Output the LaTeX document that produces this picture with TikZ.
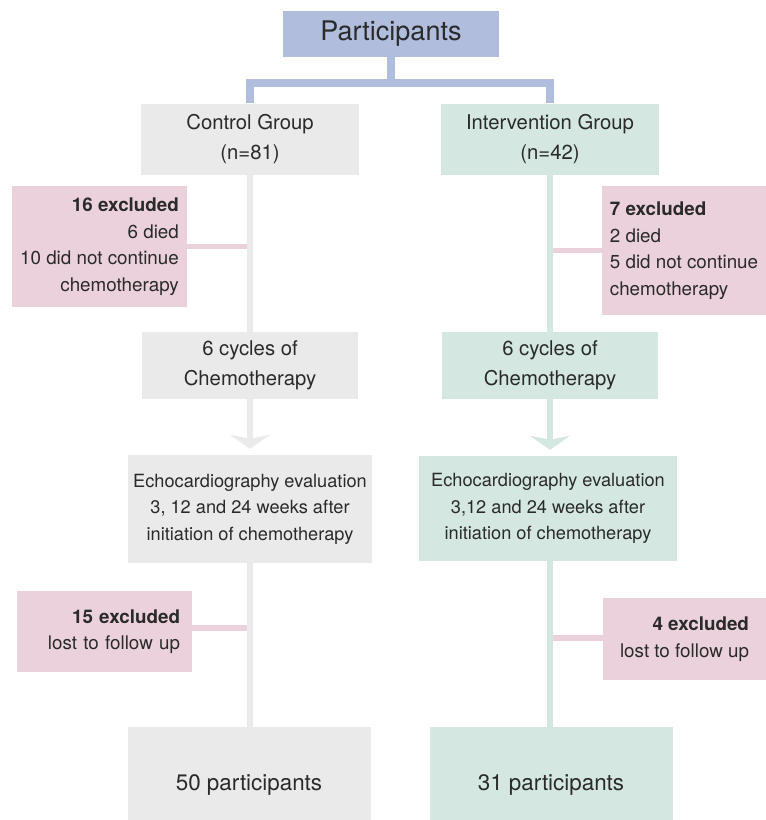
\documentclass[tikz,border=0pt]{standalone}
\usepackage{fontspec}
\setmainfont{TeX Gyre Heros}
\usetikzlibrary{arrows.meta}
\definecolor{partblue}{HTML}{B0BDDD}
\definecolor{ctrlgray}{HTML}{EAEAEA}
\definecolor{intvgreen}{HTML}{D4E8E1}
\definecolor{exclpink}{HTML}{EBD1DB}
\definecolor{inktext}{HTML}{2A2A2A}
\newcommand{\fsz}[2]{\fontsize{#1}{#2}\selectfont}
\tikzset{
  flowbox/.style  = {inner sep=0pt,align=center,text=inktext,font=\fsz{20.3}{30}},
  ctrlbox/.style  = {flowbox,fill=ctrlgray},
  intvbox/.style  = {flowbox,fill=intvgreen},
  exclbox/.style  = {flowbox,fill=exclpink,font=\fsz{18.8}{26.5}},
  evalbox/.style  = {font=\fsz{18.2}{26.5}},
  finbox/.style   = {font=\fsz{22.4}{26}},
  joinline/.style = {partblue,line width=8pt},
  colline/.style  = {line width=6.7pt},
  colarr/.style   = {colline,-{Stealth[length=14pt,width=40pt,inset=4pt]},shorten >=6pt},
  exclline/.style = {exclpink,line width=5.7pt,shorten >=3.4pt}
}
\begin{document}
\begin{tikzpicture}[x=1pt,y=-1pt]
  \useasboundingbox (0,0) rectangle (766,820);
  \clip (0,0) rectangle (766,820);
  \node[flowbox,fill=partblue,minimum width=216pt,minimum height=46pt,
        font=\fsz{27}{30}] (part) at (391,34) {Participants};
  \node[ctrlbox,minimum width=218pt,minimum height=71pt] (ctrl) at (250,139)
        {Control Group\\(n=81)};
  \node[intvbox,minimum width=218pt,minimum height=71pt] (intv) at (550,139)
        {Intervention Group\\(n=42)};
  \node[exclbox,minimum width=175pt,minimum height=121pt,align=right] (ctrlex1)
        at (99.5,246.5) {\textbf{16 excluded}\\6 died\\10 did not continue\\chemotherapy};
  \node[exclbox,minimum width=164pt,minimum height=129pt,align=left] (intvex1)
        at (684,250.5) {\textbf{7 excluded}\\2 died\\5 did not continue\\chemotherapy};
  \node[ctrlbox,minimum width=216pt,minimum height=67pt] (ctrlcyc) at (250,365.5)
        {6 cycles of\\Chemotherapy};
  \node[intvbox,minimum width=216pt,minimum height=67pt] (intvcyc) at (550,365.5)
        {6 cycles of\\Chemotherapy};
  \node[ctrlbox,evalbox,minimum width=244pt,minimum height=108pt] (ctrleval)
        at (250,509) {Echocardiography evaluation\\3, 12 and 24 weeks after\\initiation of chemotherapy};
  \node[intvbox,evalbox,minimum width=258pt,minimum height=105pt] (intveval)
        at (548,508.5) {Echocardiography evaluation\\3,12 and 24 weeks after\\initiation of chemotherapy};
  \node[exclbox,minimum width=175pt,minimum height=81pt,text width=151pt,align=right]
        (ctrlex2) at (104.5,631.5) {\textbf{15 excluded}\\lost to follow up};
  \node[exclbox,minimum width=163pt,minimum height=82pt,align=right] (intvex2)
        at (684.5,639) {\textbf{4 excluded}\\lost to follow up};
  \node[ctrlbox,finbox,minimum width=243pt,minimum height=115pt] (ctrlfin)
        at (249,784.5) {50 participants};
  \node[intvbox,finbox,minimum width=243pt,minimum height=115pt] (intvfin)
        at (551,784.5) {31 participants};

  \draw[joinline] (part.south) -- ++(0,26) coordinate (split) -| (ctrl.north);
  \draw[joinline] (split) -| (intv.north);
  \draw[colline,ctrlgray] (ctrl.south) -- (ctrlcyc.north);
  \draw[colarr,ctrlgray]  (ctrlcyc.south) -- (ctrleval.north -| ctrlcyc.south);
  \draw[colline,ctrlgray] (ctrleval.south -| ctrlcyc.south) -- (ctrlfin.north -| ctrlcyc.south);
  \draw[colline,intvgreen] (intv.south) -- (intvcyc.north);
  \draw[colarr,intvgreen]  (intvcyc.south) -- (intveval.north -| intvcyc.south);
  \draw[colline,intvgreen] (intveval.south -| intvcyc.south) -- (intvfin.north -| intvcyc.south);
  \draw[exclline] (ctrlex1.east) -- (ctrlex1.east -| ctrl.south);
  \draw[exclline] (intvex1.west) -- (intvex1.west -| intv.south);
  \draw[exclline] ([yshift=3.5pt]ctrlex2.east) -- ([yshift=3.5pt]ctrlex2.east -| ctrl.south);
  \draw[exclline] ([yshift=1pt]intvex2.west) -- ([yshift=1pt]intvex2.west -| intv.south);
\end{tikzpicture}
\end{document}
